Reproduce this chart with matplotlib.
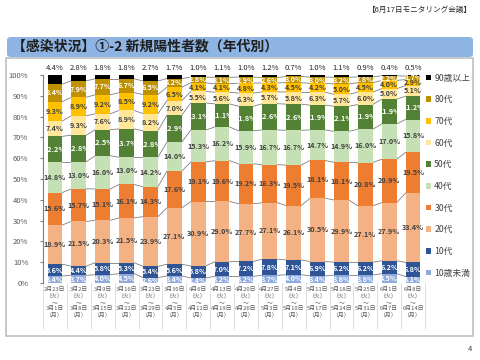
import numpy as np
import matplotlib.pyplot as plt
from matplotlib.patches import Rectangle, FancyBboxPatch

plt.rcParams['font.family'] = ['Noto Sans CJK JP', 'DejaVu Sans']

start_days = ['2月23日', '3月2日', '3月9日', '3月16日', '3月23日', '3月30日', '4月6日', '4月13日',
              '4月20日', '4月27日', '5月4日', '5月11日', '5月18日', '5月25日', '6月1日', '6月8日']
end_days = ['3月1日', '3月8日', '3月15日', '3月22日', '3月29日', '4月5日', '4月12日', '4月19日',
            '4月26日', '5月3日', '5月10日', '5月17日', '5月24日', '5月31日', '6月7日', '6月14日']

ages = ['10歳未満', '10代', '20代', '30代', '40代', '50代', '60代', '70代', '80代', '90歳以上']

under10 = [3.4, 3.7, 4.0, 4.5, 2.6, 3.4, 2.4, 3.2, 3.2, 3.7, 4.0, 3.4, 3.8, 3.8, 4.5, 3.1]
teens = [5.6, 4.4, 5.8, 5.3, 5.4, 5.6, 5.8, 7.0, 7.2, 7.8, 7.1, 6.9, 6.2, 6.2, 6.2, 6.8]
age20 = [18.9, 21.5, 20.3, 21.5, 23.9, 27.1, 30.9, 29.0, 27.7, 27.1, 26.1, 30.5, 29.9, 27.1, 27.9, 33.4]
age30 = [15.6, 15.7, 15.1, 16.1, 14.3, 17.6, 19.1, 19.6, 19.2, 18.3, 19.5, 18.1, 18.1, 20.8, 20.9, 19.5]
age40 = [14.8, 13.0, 16.0, 13.0, 14.2, 14.0, 15.3, 16.2, 15.9, 16.7, 16.7, 14.7, 14.9, 16.0, 17.0, 15.8]
age50 = [12.2, 12.8, 12.5, 13.7, 12.8, 12.9, 13.1, 11.1, 11.8, 12.6, 12.6, 11.9, 12.1, 11.9, 11.9, 11.2]
age60 = [7.4, 9.3, 7.6, 8.9, 8.2, 7.0, 5.5, 5.6, 6.3, 5.7, 5.8, 6.3, 5.7, 6.0, 5.0, 5.1]
age70 = [9.3, 8.9, 9.2, 8.5, 9.2, 6.5, 4.1, 4.1, 4.8, 4.3, 4.5, 4.2, 5.0, 4.5, 4.0, 2.9]
age80 = [8.4, 7.9, 7.7, 6.7, 6.5, 4.2, 2.8, 3.1, 2.9, 2.6, 3.0, 3.0, 3.2, 2.8, 2.2, 1.7]
over90 = [4.4, 2.8, 1.8, 1.8, 2.7, 1.7, 1.0, 1.1, 1.0, 1.2, 0.7, 1.0, 1.1, 0.9, 0.4, 0.5]

series = [under10, teens, age20, age30, age40, age50, age60, age70, age80, over90]
colors = ['#8FAADC', '#2F5597', '#F4B183', '#ED7D31', '#C5E0B4',
          '#548235', '#FFE699', '#FFC000', '#BF9000', '#000000']
text_colors = ['white', 'white', '#404040', '#404040', '#404040',
               'white', '#404040', '#404040', 'white', None]

W, H = 480, 360
fig = plt.figure(figsize=(4.8, 3.6), dpi=100)

def box(x, y, w, h):
    # pixel coords (top-left origin) -> figure fraction
    return (x / W, 1 - (y + h) / H, w / W, h / H)

# outer decorations
x0, y0, w0, h0 = box(6, 58, 467, 278)
fig.patches.append(Rectangle((x0, y0), w0, h0, transform=fig.transFigure,
                             facecolor='white', edgecolor='#BFBFBF', lw=1.2, zorder=-5))
x0, y0, w0, h0 = box(7, 37, 466, 20)
fig.patches.append(FancyBboxPatch((x0, y0), w0, h0, transform=fig.transFigure,
                                  boxstyle='round,pad=0,rounding_size=0.008',
                                  facecolor='#8EB4E3', edgecolor='none', zorder=-5))
fig.text(12 / W, 1 - 47 / H, '【感染状況】①-2 新規陽性者数（年代別）', fontsize=10,
         fontweight='bold', color='#1F1F1F', va='center', ha='left')
fig.text(472 / W, 1 - 10 / H, '【6月17日モニタリング会議】', fontsize=5.5,
         color='#262626', ha='right', va='center')
fig.text(472 / W, 1 - 349 / H, '4', fontsize=5.5, color='#404040', ha='right', va='center')

ax = fig.add_axes(box(43, 75, 382, 208))
n = len(start_days)
x = np.arange(n)
bw = 0.62
bottom = np.zeros(n)
tops = []
for vals, c, tc, lab in zip(series, colors, text_colors, ages):
    vals = np.array(vals)
    ax.bar(x, vals, bw, bottom=bottom, color=c, label=lab, edgecolor='none', zorder=2)
    if tc is not None:
        for xi, b, v in zip(x, bottom, vals):
            ax.text(xi, b + v / 2, f'{v:.1f}%', ha='center', va='center',
                    fontsize=5.2, color=tc, fontweight='bold', zorder=3)
    bottom = bottom + vals
    tops.append(bottom.copy())

# series lines between bars
for level in tops[:-1]:
    for i in range(n - 1):
        ax.plot([i + bw / 2, i + 1 - bw / 2], [level[i], level[i + 1]],
                color='#7F7F7F', lw=0.6, zorder=1)

for xi, v in zip(x, over90):
    ax.text(xi, 101.5, f'{v:.1f}%', ha='center', va='bottom', fontsize=5.5, color='#262626')

ax.set_xlim(-0.5, n - 0.5)
ax.set_ylim(0, 100)
ax.set_yticks(np.arange(0, 101, 10))
ax.set_yticklabels([f'{t}%' for t in range(0, 101, 10)], fontsize=5.5, color='#595959')
ax.tick_params(axis='y', length=2.5, color='#7F7F7F', pad=8)
ax.set_xticks(x)
ax.set_xticklabels([f'{s}\n（火）\n～\n{e}\n（月）' for s, e in zip(start_days, end_days)],
                   fontsize=4.2, color='#595959', linespacing=1.25)
ax.tick_params(axis='x', length=0, pad=3)
for side in ['top', 'right', 'bottom']:
    ax.spines[side].set_visible(False)
ax.spines['left'].set_color('#7F7F7F')
ax.spines['left'].set_linewidth(0.8)
ax.patch.set_alpha(0)

# table grid under the axis
for i in range(n + 1):
    ax.plot([i - 0.5, i - 0.5], [0, -0.22], transform=ax.get_xaxis_transform(),
            color='#D9D9D9', lw=0.6, clip_on=False)

handles, labels = ax.get_legend_handles_labels()
leg = fig.legend(handles[::-1], labels[::-1], loc='upper left',
                 bbox_to_anchor=(422 / W, 1 - 70 / H), frameon=False, fontsize=6.3,
                 handlelength=0.6, handleheight=0.6, handletextpad=0.4,
                 labelspacing=1.45, labelcolor='#404040', borderaxespad=0)

fig.savefig('out.png', dpi=100)
